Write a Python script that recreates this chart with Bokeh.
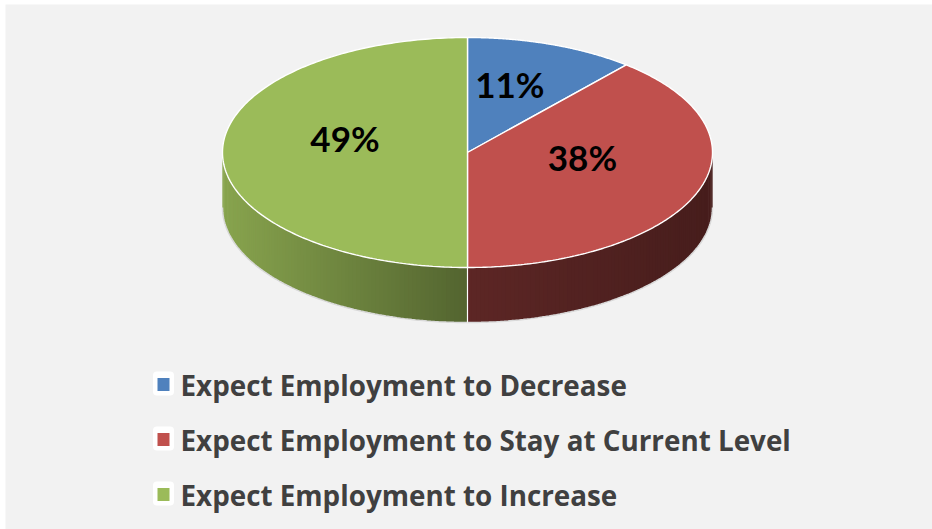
import numpy as np
from bokeh.plotting import figure
from bokeh.models import Range1d
from bokeh.core.properties import value
from bokeh.embed import file_html
from bokeh.resources import INLINE

# ---- data ----
categories = ["Expect Employment to Decrease",
              "Expect Employment to Stay at Current Level",
              "Expect Employment to Increase"]
values = [11, 38, 49]
labels = ["11%", "38%", "49%"]
colors = ["#4f81bd", "#c0504d", "#9bbb59"]

# ---- layout ----
W, H = 932, 529
cx, cy, rx, ry, depth = 467, 152, 245, 115, 55

p = figure(width=W, height=H, output_backend="svg", toolbar_location=None,
           x_range=Range1d(0, W), y_range=Range1d(H, 0), min_border=0)
p.axis.visible = False
p.grid.visible = False
p.outline_line_color = None
p.background_fill_color = "white"
p.border_fill_color = "white"

# gray chart area
p.quad(left=[5], right=[W], top=[4], bottom=[H], fill_color="#f2f2f2", line_color=None)

total = float(sum(values))
bounds = np.concatenate([[0], np.cumsum(values) / total * 360.0])

def ex(t):
    return cx + rx * np.sin(np.radians(t))

def ey(t):
    return cy - ry * np.cos(np.radians(t))

def hexrgb(c):
    c = c.lstrip("#")
    return [int(c[i:i + 2], 16) for i in (0, 2, 4)]

def shade(c, f):
    r, g, b = hexrgb(c)
    return "#%02x%02x%02x" % tuple(int(max(0, min(255, v * f))) for v in (r, g, b))

def slice_of(t):
    for i in range(len(values)):
        if bounds[i] <= t < bounds[i + 1]:
            return i
    return len(values) - 1

# side (front visible part), drawn as overlapping strips for a smooth gradient
xs_s, ys_s, cs_s = [], [], []
step = 1.0
for t1 in np.arange(90, 270, step):
    t2 = min(t1 + step * 1.8, 270)
    tm = t1 + step / 2
    i = slice_of(tm)
    t2 = min(t2, bounds[i + 1])
    xm = ex(tm)
    u = (xm - (cx - rx)) / (2 * rx)
    if u < 0.5:
        f = 0.88 - 0.68 * u
    else:
        f = 0.54 - 0.26 * (u - 0.5)
    if i == 1:
        f *= 0.9
    ts = np.linspace(t1, t2, 4)
    xs_s.append(list(ex(ts)) + list(ex(ts[::-1])))
    ys_s.append(list(ey(ts)) + list(ey(ts[::-1]) + depth))
    cs_s.append(shade(colors[i], f))
p.patches(xs_s, ys_s, fill_color=cs_s, line_color=None)

# bottom edge of side
tb = np.linspace(90, 270, 200)
p.line(ex(tb), ey(tb) + depth, line_color="#d9d9d9", line_width=1.5)

# vertical separators on side at slice boundaries that are in front
for b in bounds:
    bb = b % 360
    if 90 < bb < 270:
        p.line([ex(bb), ex(bb)], [ey(bb), ey(bb) + depth], line_color="white", line_width=1.2)

# top slices
xs_t, ys_t = [], []
for i in range(len(values)):
    ts = np.linspace(bounds[i], bounds[i + 1], 200)
    xs_t.append([cx] + list(ex(ts)))
    ys_t.append([cy] + list(ey(ts)))
p.patches(xs_t, ys_t, fill_color=colors, line_color="white", line_width=1.4)

# labels
mids = (bounds[:-1] + bounds[1:]) / 2
k = 0.5
lx = cx + rx * k * np.sin(np.radians(mids))
ly = cy - ry * k * np.cos(np.radians(mids)) - 15
p.text(x=list(lx), y=list(ly), text=labels, text_font=value("Lato"),
       text_font_style="bold", text_font_size="35px", text_color="black",
       text_align="center", text_baseline="middle")

# legend
rows = np.arange(len(categories))
ly0, dy = 383, 55
leg_y = ly0 + dy * rows
p.rect(x=[163] * len(rows), y=list(leg_y), width=21, height=24, fill_color="white",
       line_color=None, border_radius=4)
p.rect(x=[163] * len(rows), y=list(leg_y + 1), width=12, height=13, fill_color=colors,
       line_color=None)
p.text(x=[180] * len(rows), y=list(leg_y + 1), text=categories, text_font=value("Open Sans"),
       text_font_style="bold", text_font_size="27.8px", text_color="#404040",
       text_align="left", text_baseline="middle")

open("out.html", "w").write(file_html(p, INLINE))
